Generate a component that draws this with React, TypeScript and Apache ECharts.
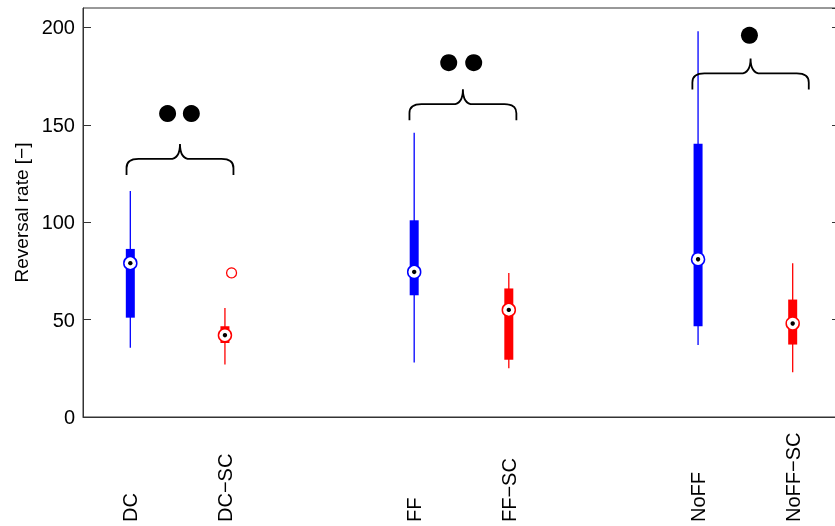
import { useEffect, useRef } from "react";
import * as echarts from "echarts";

// Category labels (positions 1..8; 3 and 6 are gaps)
const categories = ["DC", "DC\u2212SC", "", "FF", "FF\u2212SC", "", "NoFF", "NoFF\u2212SC"];

// Box data: [x, whiskerLow, q1, median, q3, whiskerHigh]
const blueBoxes = [
  [1, 35.5, 51, 79, 86.3, 116],
  [4, 28, 62.5, 74.5, 101, 146],
  [7, 37, 46.6, 81, 140.3, 198],
];
const redBoxes = [
  [2, 27, 38, 42, 46.6, 56],
  [5, 25, 29.4, 55, 66, 74],
  [8, 23, 37.2, 48, 60.3, 79],
];
// Outliers: [x, value]
const redOutliers = [[2.07, 74]];

// Significance braces: [xStart, xEnd, yEnds]
const braces = [
  [0.96, 2.09, 124.3],
  [3.95, 5.08, 152.4],
  [6.94, 8.17, 168.2],
];
// Significance dots: [x, y]
const sigDots = [
  [1.394, 155.8],
  [1.645, 155.8],
  [4.365, 181.9],
  [4.629, 181.9],
  [7.543, 196],
];

const yMin = 0;
const yMax = 210;
const yInterval = 50;

export default function App() {
  const ref = useRef<HTMLDivElement>(null);
  useEffect(() => {
    const chart = echarts.init(ref.current!, null, { renderer: "svg" });
    const font = "'Liberation Sans', Arial, Helvetica, sans-serif";

    const boxItem = (color: string) => (_params: any, api: any) => {
      const x = api.value(0);
      const lo = api.coord([x, api.value(1)]);
      const q1 = api.coord([x, api.value(2)]);
      const med = api.coord([x, api.value(3)]);
      const q3 = api.coord([x, api.value(4)]);
      const hi = api.coord([x, api.value(5)]);
      const w = 9;
      return {
        type: "group",
        children: [
          { type: "line", shape: { x1: lo[0], y1: lo[1], x2: hi[0], y2: hi[1] }, style: { stroke: color, lineWidth: 1.3 } },
          { type: "rect", shape: { x: q3[0] - w / 2, y: q3[1], width: w, height: q1[1] - q3[1] }, style: { fill: color } },
          { type: "circle", shape: { cx: med[0], cy: med[1], r: 6.5 }, style: { fill: "#fff", stroke: color, lineWidth: 1.5 } },
          { type: "circle", shape: { cx: med[0], cy: med[1], r: 2.2 }, style: { fill: "#000" } },
        ],
      };
    };

    const braceItem = (_params: any, api: any) => {
      const p0 = api.coord([api.value(0), api.value(2)]);
      const p1 = api.coord([api.value(1), api.value(2)]);
      const x0 = p0[0], x1 = p1[0], yb = p0[1];
      const yh = yb - 16, yt = yh - 15, xm = (x0 + x1) / 2;
      const r = 12, m = 10;
      const d = `M${x0},${yb} L${x0},${yh + 9} Q${x0},${yh} ${x0 + r},${yh} L${xm - m},${yh} Q${xm},${yh} ${xm},${yt} Q${xm},${yh} ${xm + m},${yh} L${x1 - r},${yh} Q${x1},${yh} ${x1},${yh + 9} L${x1},${yb}`;
      return { type: "path", shape: { pathData: d }, style: { stroke: "#000", fill: "none", lineWidth: 1.8 } };
    };

    chart.setOption({
      animation: false,
      grid: { left: 83, right: 5, top: 8, bottom: 109, show: true, borderColor: "#333", borderWidth: 1 },
      xAxis: [
        {
          type: "category",
          data: categories,
          boundaryGap: true,
          axisLine: { lineStyle: { color: "#333", width: 1 } },
          axisTick: { show: false },
          axisLabel: { rotate: 90, align: "left", margin: 105, interval: 0, fontSize: 20, color: "#000", fontFamily: font },
        },
        { type: "value", min: 0.5, max: 8.5, show: false },
      ],
      yAxis: [
        {
          type: "value",
          min: yMin,
          max: yMax,
          interval: yInterval,
          name: "Reversal rate [\u2212]",
          nameLocation: "middle",
          nameGap: 52,
          nameTextStyle: { fontSize: 19, color: "#000", fontFamily: font },
          axisLine: { show: true, lineStyle: { color: "#333", width: 1 } },
          axisTick: { show: true, inside: true, length: 8, lineStyle: { color: "#333" } },
          axisLabel: { showMaxLabel: false, margin: 8, fontSize: 20, color: "#000", fontFamily: font },
          splitLine: { show: false },
        },
        {
          type: "value",
          position: "right",
          min: yMin,
          max: yMax,
          interval: yInterval,
          axisLine: { show: true, lineStyle: { color: "#333", width: 1 } },
          axisTick: { show: true, inside: true, length: 8, lineStyle: { color: "#333" } },
          axisLabel: { show: false },
          splitLine: { show: false },
        },
      ],
      series: [
        { type: "custom", xAxisIndex: 1, yAxisIndex: 0, data: blueBoxes, renderItem: boxItem("#0000ff"), encode: { x: 0, y: [1, 2, 3, 4, 5] }, z: 3 },
        { type: "custom", xAxisIndex: 1, yAxisIndex: 0, data: redBoxes, renderItem: boxItem("#ff0000"), encode: { x: 0, y: [1, 2, 3, 4, 5] }, z: 3 },
        {
          type: "scatter",
          xAxisIndex: 1,
          yAxisIndex: 0,
          data: redOutliers,
          symbol: "circle",
          symbolSize: 10,
          itemStyle: { color: "rgba(255,255,255,0)", borderColor: "#ff0000", borderWidth: 1.3, opacity: 1 },
          z: 3,
        },
        { type: "custom", xAxisIndex: 1, yAxisIndex: 0, data: braces, renderItem: braceItem, encode: { x: [0, 1], y: 2 }, z: 4 },
        {
          type: "scatter",
          xAxisIndex: 1,
          yAxisIndex: 0,
          data: sigDots,
          symbol: "circle",
          symbolSize: 17,
          itemStyle: { color: "#000", opacity: 1 },
          z: 4,
        },
      ],
    });
    return () => chart.dispose();
  }, []);
  return <div ref={ref} style={{ position: "fixed", left: 0, top: 0, width: 845, height: 526 }} />;
}
